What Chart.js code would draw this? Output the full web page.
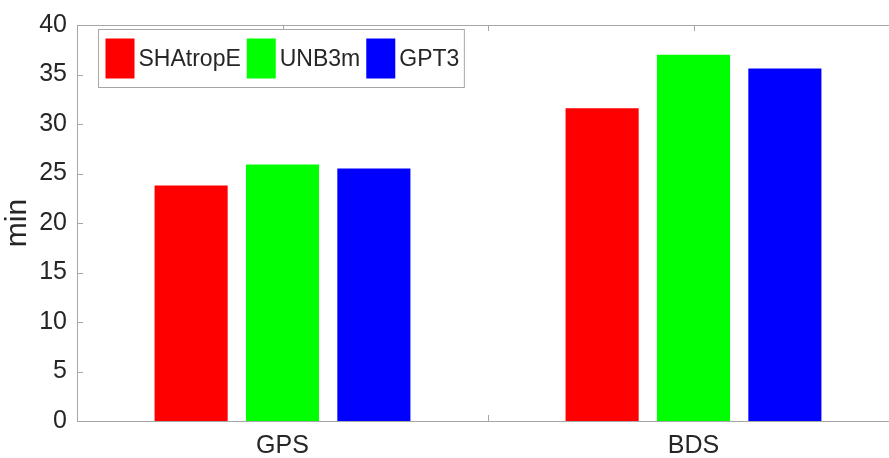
<!DOCTYPE html>
<html>
<head>
<meta charset="utf-8">
<script src="https://cdn.jsdelivr.net/npm/chart.js@4.4.1/dist/chart.umd.min.js"></script>
<style>
  html, body { margin: 0; padding: 0; background: #fff; overflow: hidden; }
  #wrap { position: relative; width: 910px; height: 458px; }
</style>
</head>
<body>
<div id="wrap"><canvas id="c"></canvas></div>
<script>
// Convergence time per system and troposphere model (minutes)
const categories = ['GPS', 'BDS'];
const seriesNames = ['SHAtropE', 'UNB3m', 'GPT3'];
const shatropE = [23.8, 31.6];
const unb3m = [25.9, 37.0];
const gpt3 = [25.5, 35.6];
const yTicks = [0, 5, 10, 15, 20, 25, 30, 35, 40];

const seriesColors = ['#ff0000', '#00ff00', '#0000ff'];
const axisColor = '#a6a6a6';
const textColor = '#262626';
const fontFamily = '"Liberation Sans", Arial, Helvetica, sans-serif';

// MATLAB-style box with inward tick marks
const boxPlugin = {
  id: 'boxTicks',
  beforeDatasetsDraw(chart) {
    const { ctx, chartArea: a, scales } = chart;
    const x = scales.x, y = scales.y;
    const len = 6;
    ctx.save();
    ctx.strokeStyle = axisColor;
    ctx.lineWidth = 1;
    ctx.beginPath();
    y.ticks.forEach(t => {
      const py = Math.round(y.getPixelForValue(t.value)) + 0.5;
      ctx.moveTo(a.left, py); ctx.lineTo(a.left + len, py);
      ctx.moveTo(a.right, py); ctx.lineTo(a.right - len, py);
    });
    const centers = categories.map((_, i) => x.getPixelForValue(i));
    const xs = centers.slice();
    for (let i = 0; i < centers.length - 1; i++) xs.push((centers[i] + centers[i + 1]) / 2);
    xs.forEach(px => {
      const p = Math.round(px) + 0.5;
      ctx.moveTo(p, a.bottom); ctx.lineTo(p, a.bottom - len);
      ctx.moveTo(p, a.top); ctx.lineTo(p, a.top + len);
    });
    ctx.stroke();
    ctx.restore();
  },
  afterDatasetsDraw(chart) {
    const { ctx, chartArea: a } = chart;
    ctx.save();
    ctx.strokeStyle = axisColor;
    ctx.lineWidth = 1;
    ctx.strokeRect(Math.round(a.left) + 0.5, Math.round(a.top) + 0.5,
                   Math.round(a.right - a.left), Math.round(a.bottom - a.top));
    ctx.restore();
  }
};

// Legend box drawn inside the plot area, top-left
const legendPlugin = {
  id: 'insideLegend',
  afterDraw(chart) {
    const { ctx, chartArea: a } = chart;
    const sw = 29, sh = 40, gapText = 4, gapItem = 6, padL = 7, padR = 5;
    const bx = Math.round(a.left + 21) + 0.5, by = Math.round(a.top + 4) + 0.5, bh = 58;
    ctx.save();
    ctx.font = '23px ' + fontFamily;
    const widths = chart.data.datasets.map(d => ctx.measureText(d.label).width);
    let bw = padL + padR;
    widths.forEach((w, i) => { bw += sw + gapText + w + (i < widths.length - 1 ? gapItem : 0); });
    ctx.fillStyle = '#fff';
    ctx.fillRect(bx, by, bw, bh);
    ctx.strokeStyle = axisColor;
    ctx.lineWidth = 1;
    ctx.strokeRect(bx, by, bw, bh);
    let cx = bx + padL;
    const cy = by + bh / 2;
    chart.data.datasets.forEach((d, i) => {
      ctx.fillStyle = d.backgroundColor;
      ctx.fillRect(cx, cy - sh / 2, sw, sh);
      cx += sw + gapText;
      ctx.fillStyle = textColor;
      ctx.textBaseline = 'middle';
      ctx.textAlign = 'left';
      ctx.fillText(d.label, cx, cy + 1);
      cx += widths[i] + gapItem;
    });
    ctx.restore();
  }
};

const seriesData = [shatropE, unb3m, gpt3];

new Chart(document.getElementById('c'), {
  type: 'bar',
  data: {
    labels: categories,
    datasets: seriesNames.map((name, i) => ({
      label: name,
      data: seriesData[i],
      backgroundColor: seriesColors[i],
      borderWidth: 0,
      categoryPercentage: 0.667,
      barPercentage: 0.8
    }))
  },
  options: {
    responsive: true,
    maintainAspectRatio: false,
    animation: false,
    layout: { padding: { top: 23, right: 11, left: 0, bottom: 0 } },
    plugins: {
      legend: { display: false },
      tooltip: { enabled: false }
    },
    scales: {
      x: {
        grid: { display: false, drawTicks: false },
        border: { display: false },
        ticks: {
          color: textColor,
          font: { family: fontFamily, size: 25 },
          padding: 10,
          maxRotation: 0
        },
        afterFit(s) { s.height = 37; }
      },
      y: {
        min: 0,
        max: 40,
        afterBuildTicks(s) { s.ticks = yTicks.map(v => ({ value: v })); },
        grid: { display: false, drawTicks: false },
        border: { display: false },
        ticks: {
          color: textColor,
          font: { family: fontFamily, size: 25 },
          padding: 10
        },
        title: {
          display: true,
          text: 'min',
          color: textColor,
          font: { family: fontFamily, size: 30 },
          padding: { top: 0, bottom: 0 }
        },
        afterFit(s) { s.width = 77; }
      }
    }
  },
  plugins: [boxPlugin, legendPlugin]
});
</script>
</body>
</html>
